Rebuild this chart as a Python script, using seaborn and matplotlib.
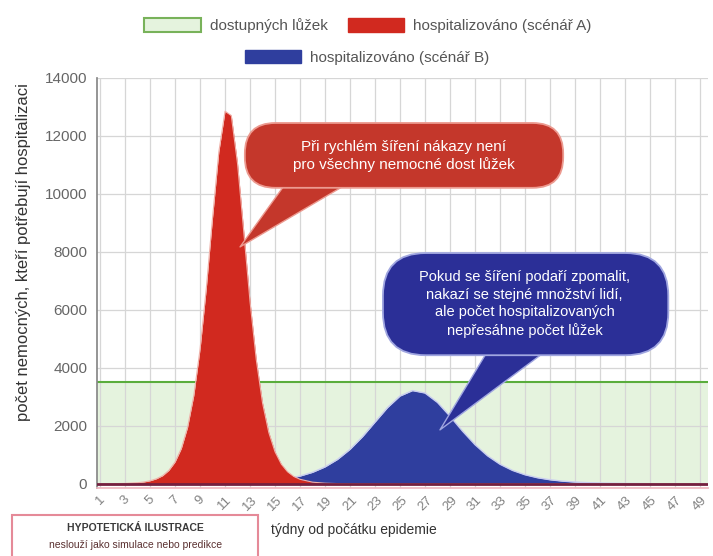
"""Hypothetical hospitalisation curves vs. available hospital beds."""

import matplotlib.pyplot as plt
import seaborn as sns
from matplotlib.patches import FancyBboxPatch, Patch, Rectangle

# scenario A: fast spread (half-week readings around the sharp peak)
red_weeks = [1, 2, 3, 4, 4.5, 5, 5.5, 6, 6.5, 7, 7.5, 8, 8.5, 9, 9.5, 10, 10.5,
             11, 11.5, 12, 12.5, 13, 13.5, 14, 14.5, 15, 15.5, 16, 16.5, 17,
             18, 19, 20, 22, 49]
red_values = [2, 5, 14, 38, 63, 104, 172, 278, 461, 751, 1215, 1943, 3046,
              4640, 6745, 9180, 11440, 12850, 12700, 11040, 8685, 6280, 4276,
              2790, 1771, 1105, 681, 417, 255, 156, 57, 21, 8, 1, 0]

# scenario B: slowed spread, one reading per week
blue_weeks = list(range(1, 50))
blue_values = [0, 0, 0, 1, 2, 3, 4, 7, 10, 15, 23, 34, 52, 79, 119, 179, 267,
               396, 582, 841, 1188, 1624, 2127, 2628, 3027, 3215, 3132, 2806,
               2332, 1820, 1352, 968, 676, 463, 313, 210, 140, 93, 61, 40, 27,
               18, 12, 8, 5, 3, 2, 1, 1]

capacity = 3500
week_ticks = list(range(1, 50, 2))
y_ticks = [0, 2000, 4000, 6000, 8000, 10000, 12000, 14000]

legend_labels = ["dostupných lůžek", "hospitalizováno (scénář A)",
                 "hospitalizováno (scénář B)"]
text_a = "Při rychlém šíření nákazy není\npro všechny nemocné dost lůžek"
text_b = ("Pokud se šíření podaří zpomalit,\nnakazí se stejné množství lidí,\n"
          "ale počet hospitalizovaných\nnepřesáhne počet lůžek")

RED = "#d1291f"
BLUE = "#2f3e9e"
GREEN = "#5aad3c"
GREEN_FILL = "#e5f3de"
BUBBLE_RED, EDGE_RED = "#c4372b", "#ec9a90"
BUBBLE_BLUE, EDGE_BLUE = "#2b2f97", "#a0a6e0"

sns.set_theme(style="whitegrid")
plt.rcParams["font.family"] = ["Liberation Sans", "DejaVu Sans"]

fig = plt.figure(figsize=(7.13, 5.56), dpi=100)
ax = fig.add_axes([0.136, 0.122, 0.857, 0.738])
aspect = (0.738 * 556) / (0.857 * 713)  # axes height / width in pixels

# available beds
ax.axhspan(0, capacity, color=GREEN_FILL, zorder=0.4, lw=0)
ax.axhline(capacity, color=GREEN, lw=1.5, zorder=2.5)

# hospitalised curves
ax.fill_between(blue_weeks, blue_values, color=BLUE, lw=0, zorder=2)
sns.lineplot(x=blue_weeks, y=blue_values, color="#c9cdf0", lw=1.0, ax=ax,
             zorder=2.1)
ax.fill_between(red_weeks, red_values, color=RED, lw=0, zorder=3)
sns.lineplot(x=red_weeks, y=red_values, color="#f0b0a8", lw=0.8, ax=ax,
             zorder=3.1)
ax.axhline(0, color="#74203f", lw=2, zorder=3.5)

ax.set_xlim(0.75, 49.65)
ax.set_ylim(-150, 14000)
ax.set_xticks(week_ticks)
ax.set_xticklabels([str(w) for w in week_ticks], rotation=45, fontsize=9.5,
                   color="#808080")
ax.set_yticks(y_ticks)
ax.set_yticklabels([str(v) for v in y_ticks], fontsize=11, color="#666666")
ax.tick_params(axis="y", length=5, color="#aaaaaa", pad=2)
ax.tick_params(axis="x", length=0, pad=4)
ax.grid(True, color="#d6d6d6", lw=0.9)
ax.set_axisbelow(True)
for side in ["top", "right"]:
    ax.spines[side].set_visible(False)
ax.spines["left"].set_color("#888888")
ax.spines["bottom"].set_color("#efb8c0")

ax.set_ylabel("počet nemocných, kteří potřebují hospitalizaci", fontsize=12,
              color="#333333")
ax.yaxis.set_label_coords(-0.108, 0.575)
ax.set_xlabel("týdny od počátku epidemie", fontsize=10, color="#333333")
ax.xaxis.set_label_coords(0.42, -0.085)


def bubble(x0, y0, w, h, radius, fc, ec):
    """Pill shaped callout body in axes coordinates."""
    box = FancyBboxPatch((x0, y0), w, h,
                         boxstyle=f"round,pad=0,rounding_size={radius}",
                         mutation_aspect=1 / aspect, transform=ax.transAxes,
                         fc=fc, ec=ec, lw=1.3, zorder=4.9)
    ax.add_patch(box)


# speech bubble A
ax.annotate("", xy=(12.2, 8170), xytext=(19.4, 11000),
            arrowprops=dict(arrowstyle="wedge,tail_width=3.7,shrink_factor=0.5",
                            mutation_scale=10, fc=BUBBLE_RED, ec=EDGE_RED,
                            lw=1, shrinkA=0, shrinkB=0),
            zorder=4.8)
bubble(0.242, 0.732, 0.521, 0.158, 0.05, BUBBLE_RED, EDGE_RED)
ax.text(0.502, 0.81, text_a, transform=ax.transAxes, ha="center", va="center",
        color="white", fontsize=11, linespacing=1.25, zorder=5)

# speech bubble B
ax.annotate("", xy=(28.2, 1860), xytext=(36.2, 5655),
            arrowprops=dict(arrowstyle="wedge,tail_width=4.2,shrink_factor=0.5",
                            mutation_scale=10, fc=BUBBLE_BLUE, ec=EDGE_BLUE,
                            lw=1, shrinkA=0, shrinkB=0),
            zorder=4.8)
bubble(0.468, 0.324, 0.467, 0.249, 0.07, BUBBLE_BLUE, EDGE_BLUE)
ax.text(0.70, 0.449, text_b, transform=ax.transAxes, ha="center", va="center",
        color="white", fontsize=10.5, linespacing=1.3, zorder=5)

# legend: two rows, second one centred
h_green = Patch(fc=GREEN_FILL, ec="#78b25a", lw=1.5)
h_red = Patch(fc=RED, ec=RED)
h_blue = Patch(fc=BLUE, ec=BLUE)
common = dict(frameon=False, fontsize=11, handlelength=3.7, handleheight=1.0,
              handletextpad=0.6, columnspacing=1.3, labelcolor="#555555")
fig.legend([h_green, h_red], legend_labels[:2], ncol=2, loc="center",
           bbox_to_anchor=(0.516, 0.954), **common)
fig.legend([h_blue], legend_labels[2:], loc="center",
           bbox_to_anchor=(0.515, 0.897), **common)

# disclaimer box
fig.add_artist(Rectangle((0.017, -0.02), 0.345, 0.094, transform=fig.transFigure,
                         fc="white", ec="#e58a98", lw=1.5))
fig.text(0.19, 0.050, "HYPOTETICKÁ ILUSTRACE", ha="center", va="center",
         fontsize=7.5, fontweight="bold", color="#3a3a3a")
fig.text(0.19, 0.020, "neslouží jako simulace nebo predikce", ha="center",
         va="center", fontsize=7.5, color="#5a3030")

fig.savefig("out.png", dpi=100)
